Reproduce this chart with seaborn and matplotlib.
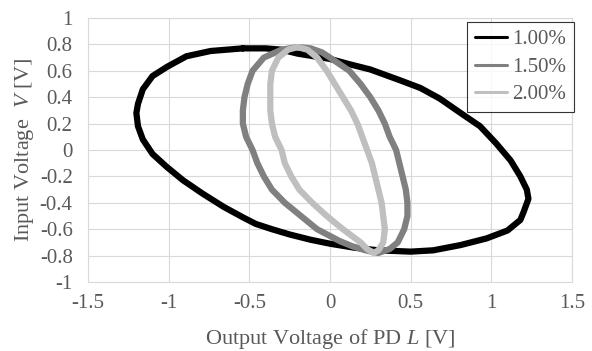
import pandas as pd
import seaborn as sns
import matplotlib.pyplot as plt

x_100 = [-0.54, -0.4, -0.3, -0.2, -0.1, 0.0, 0.12, 0.25, 0.43, 0.56, 0.68, 0.81, 0.93, 1.03, 1.12, 1.18,
         1.22, 1.23, 1.2, 1.18, 1.1, 0.97, 0.81, 0.64, 0.5, 0.3, 0.15, 0.0, -0.12, -0.25, -0.36, -0.46,
         -0.54, -0.66, -0.79, -0.91, -1.01, -1.1, -1.16, -1.19, -1.2, -1.19, -1.16, -1.1, -1.01, -0.89,
         -0.74, -0.54]
y_100 = [0.77, 0.77, 0.76, 0.73, 0.71, 0.69, 0.65, 0.61, 0.53, 0.47, 0.39, 0.28, 0.18, 0.05, -0.08, -0.2,
         -0.3, -0.37, -0.47, -0.53, -0.61, -0.67, -0.72, -0.76, -0.77, -0.76, -0.74, -0.71, -0.68, -0.64, -0.6, -0.56,
         -0.51, -0.43, -0.33, -0.23, -0.13, -0.03, 0.08, 0.18, 0.28, 0.35, 0.46, 0.56, 0.63, 0.71,
         0.75, 0.77]

x_150 = [-0.2, -0.12, -0.05, 0.0, 0.06, 0.12, 0.19, 0.25, 0.3, 0.34, 0.37, 0.41, 0.43, 0.45, 0.47, 0.48,
         0.48, 0.46, 0.42, 0.37, 0.3, 0.22, 0.14, 0.06, -0.08, -0.18, -0.28, -0.36, -0.41, -0.45, -0.48,
         -0.52, -0.54, -0.54, -0.53, -0.51, -0.48, -0.41, -0.3, -0.2]
y_150 = [0.78, 0.77, 0.74, 0.7, 0.65, 0.6, 0.5, 0.4, 0.3, 0.2, 0.1, 0.0, -0.1, -0.2, -0.3, -0.4,
         -0.5, -0.6, -0.7, -0.75, -0.78, -0.76, -0.73, -0.69, -0.6, -0.5, -0.4, -0.3, -0.2, -0.1, 0.0,
         0.1, 0.2, 0.3, 0.4, 0.5, 0.6, 0.7, 0.76, 0.78]

x_200 = [-0.2, -0.14, -0.08, -0.02, 0.03, 0.08, 0.13, 0.17, 0.2, 0.23, 0.26, 0.28, 0.3, 0.32, 0.33, 0.34,
         0.33, 0.3, 0.27, 0.23, 0.19, 0.08, -0.02, -0.11, -0.19, -0.24, -0.28, -0.3, -0.34, -0.36, -0.37,
         -0.37, -0.37, -0.36, -0.32, -0.26, -0.2]
y_200 = [0.78, 0.76, 0.7, 0.6, 0.5, 0.4, 0.3, 0.2, 0.1, 0.0, -0.1, -0.2, -0.3, -0.4, -0.5, -0.6,
         -0.7, -0.76, -0.78, -0.75, -0.7, -0.6, -0.5, -0.4, -0.3, -0.2, -0.1, 0.0, 0.1, 0.2, 0.3,
         0.4, 0.5, 0.6, 0.7, 0.76, 0.78]

labels = ["1.00%", "1.50%", "2.00%"]
colours = {"1.00%": "#000000", "1.50%": "#808080", "2.00%": "#bfbfbf"}

frames = []
for lab, xs, ys in zip(labels, [x_100, x_150, x_200], [y_100, y_150, y_200]):
    d = pd.DataFrame({"L": xs, "V": ys})
    d["series"] = lab
    frames.append(d)
df = pd.concat(frames, ignore_index=True)

sns.set_style("white")
plt.rcParams["font.family"] = ["Liberation Serif", "DejaVu Serif"]
plt.rcParams["mathtext.fontset"] = "custom"
plt.rcParams["mathtext.rm"] = "Liberation Serif"
plt.rcParams["mathtext.it"] = "Liberation Serif:italic"

text_c = "#595959"
grid_c = "#d9d9d9"

fig, ax = plt.subplots(figsize=(5.92, 3.51), dpi=100)
fig.subplots_adjust(left=0.1486, right=0.9662, top=0.9487, bottom=0.1966)

sns.lineplot(data=df, x="L", y="V", hue="series", hue_order=labels, palette=colours,
             sort=False, estimator=None, units="series", linewidth=4.5, ax=ax)
for ln in ax.get_lines():
    ln.set_solid_joinstyle("round")
    ln.set_solid_capstyle("round")

ax.set_xlim(-1.5, 1.5)
ax.set_ylim(-1, 1)
ax.set_xticks([-1.5, -1, -0.5, 0, 0.5, 1, 1.5])
ax.set_xticklabels(["-1.5", "-1", "-0.5", "0", "0.5", "1", "1.5"])
ax.set_yticks([-1, -0.8, -0.6, -0.4, -0.2, 0, 0.2, 0.4, 0.6, 0.8, 1])
ax.set_yticklabels(["-1", "-0.8", "-0.6", "-0.4", "-0.2", "0", "0.2", "0.4", "0.6", "0.8", "1"])
ax.grid(True, color=grid_c, linewidth=0.8)
ax.set_axisbelow(True)
for s in ax.spines.values():
    s.set_color(grid_c)
    s.set_linewidth(0.8)
ax.tick_params(axis="both", length=0, labelsize=15, colors=text_c)
ax.tick_params(axis="x", pad=9)
ax.tick_params(axis="y", pad=11)

ax.set_xlabel(r"Output Voltage of PD $\mathit{L}$ [V]", fontsize=16, color=text_c, labelpad=10)
ax.set_ylabel(r"Input Voltage  $\mathit{V}$ [V]", fontsize=16, color=text_c, labelpad=2.5)

leg = ax.legend(loc="upper right", bbox_to_anchor=(1.004, 0.985), fontsize=15, frameon=True,
                fancybox=False, edgecolor="black", handlelength=1.55, borderaxespad=0,
                labelspacing=0.38, handletextpad=0.25, borderpad=0.38)
leg.get_frame().set_linewidth(0.8)
for h in leg.get_lines():
    h.set_linewidth(2.2)
for t in leg.get_texts():
    t.set_color(text_c)

plt.savefig("out.png", dpi=100)
plt.close()
